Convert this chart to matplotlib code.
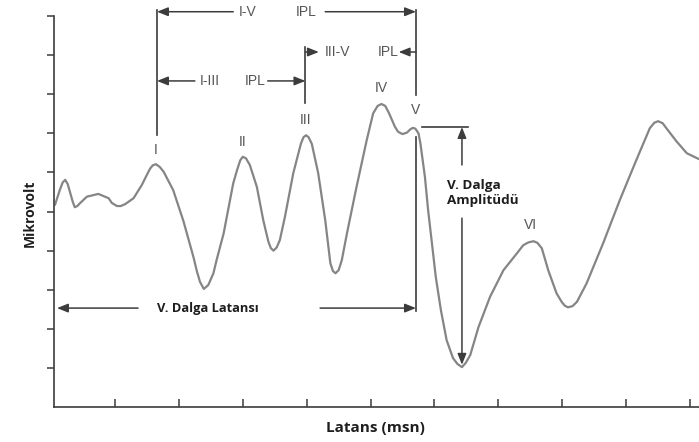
import matplotlib
matplotlib.use("Agg")
import matplotlib.pyplot as plt

# ABR waveform (latency in ms, amplitude in axis units)
latency_ms = [
    0.06, 0.10, 0.14, 0.18, 0.22, 0.26, 0.30, 0.34, 0.37, 0.41, 0.45, 0.56,
    0.74, 0.90, 0.95, 1.03, 1.09, 1.16, 1.29, 1.42, 1.49, 1.55, 1.59, 1.64,
    1.70, 1.76, 1.91, 2.07, 2.23, 2.28, 2.33, 2.39, 2.46, 2.54, 2.59, 2.70,
    2.85, 2.91, 2.96, 3.00, 3.05, 3.11, 3.22, 3.32, 3.40, 3.44, 3.48, 3.53,
    3.58, 3.66, 3.79, 3.91, 3.95, 3.99, 4.03, 4.08, 4.18, 4.29, 4.37, 4.41,
    4.45, 4.50, 4.55, 4.63, 4.78, 4.94, 5.04, 5.11, 5.17, 5.23, 5.29, 5.38,
    5.43, 5.50, 5.57, 5.62, 5.66, 5.70, 5.75, 5.78, 5.85, 5.90, 5.96, 6.02,
    6.10, 6.19, 6.29, 6.36, 6.43, 6.49, 6.56, 6.69, 6.87, 7.08, 7.29, 7.39,
    7.47, 7.55, 7.61, 7.68, 7.78, 7.91, 7.99, 8.04, 8.09, 8.16, 8.23, 8.38,
    8.64, 8.90, 9.16, 9.37, 9.44, 9.50, 9.57, 9.63, 9.79, 9.95, 10.14,
]
amplitude = [
    5.17, 5.37, 5.57, 5.74, 5.81, 5.70, 5.47, 5.24, 5.11, 5.14, 5.21, 5.38,
    5.45, 5.34, 5.22, 5.14, 5.14, 5.19, 5.34, 5.68, 5.91, 6.10, 6.18, 6.21,
    6.14, 6.02, 5.55, 4.76, 3.82, 3.48, 3.20, 3.02, 3.12, 3.42, 3.76, 4.44,
    5.72, 6.06, 6.31, 6.40, 6.36, 6.19, 5.63, 4.78, 4.23, 4.06, 4.00, 4.08,
    4.27, 4.87, 5.98, 6.74, 6.90, 6.95, 6.90, 6.73, 5.98, 4.78, 3.68, 3.48,
    3.42, 3.50, 3.76, 4.44, 5.63, 6.83, 7.51, 7.70, 7.75, 7.70, 7.51, 7.17,
    7.04, 6.98, 7.02, 7.10, 7.14, 7.12, 7.00, 6.74, 5.89, 5.04, 4.19, 3.33,
    2.48, 1.71, 1.25, 1.10, 1.02, 1.13, 1.33, 2.05, 2.82, 3.50, 3.93, 4.14,
    4.21, 4.24, 4.20, 4.06, 3.50, 2.91, 2.69, 2.59, 2.55, 2.58, 2.69, 3.16,
    4.19, 5.29, 6.32, 7.13, 7.27, 7.31, 7.26, 7.13, 6.79, 6.49, 6.34,
]

x_ticks = [1, 2, 3, 4, 5, 6, 7, 8, 9, 10]
y_ticks = [1, 2, 3, 4, 5, 6, 7, 8, 9, 10]

# wave labels: (text, latency, amplitude)
wave_names = ["I", "II", "III", "IV", "V", "VI"]
wave_x = [1.64, 3.00, 3.99, 5.16, 5.70, 7.51]
wave_y = [6.57, 6.78, 7.34, 8.16, 7.60, 4.65]

# latency markers
lat_I, lat_III, lat_V = 1.657, 3.98, 5.71

LINE = "#3c3c3c"
WAVE = "#858585"
LABEL = "#555555"
BOLD = "#1e1e1e"
roman = dict(family="Liberation Sans", color=LABEL, fontsize=10, ha="center", va="center")
bold = dict(family="Open Sans", fontweight="bold", color=BOLD)

fig = plt.figure(figsize=(6.99, 4.42), dpi=100)
ax = fig.add_axes([54 / 699, 35 / 442, 645 / 699, 407 / 442])
ax.set_xlim(0.045, 10.14)
ax.set_ylim(0, 10.41)

ax.plot(latency_ms, amplitude, color=WAVE, lw=1.6, solid_joinstyle="round",
        solid_capstyle="round")

for s in ["top", "right"]:
    ax.spines[s].set_visible(False)
for s in ["left", "bottom"]:
    ax.spines[s].set_color(LINE)
    ax.spines[s].set_linewidth(1.2)
ax.spines["left"].set_bounds(0, 10)
ax.set_xticks(x_ticks)
ax.set_yticks(y_ticks)
ax.set_xticklabels([])
ax.set_yticklabels([])
ax.tick_params(axis="x", direction="in", length=6, width=1.1, color=LINE)
ax.tick_params(axis="y", direction="out", length=5, width=1.1, color=LINE)

for name, x, y in zip(wave_names, wave_x, wave_y):
    ax.text(x, y, name, **roman)


def arrow(x0, y0, x1, y1):
    ax.annotate("", xy=(x1, y1), xytext=(x0, y0),
                arrowprops=dict(arrowstyle="-|>,head_length=0.55,head_width=0.22",
                                mutation_scale=12, color=LINE, lw=1.1,
                                shrinkA=0, shrinkB=0))


# vertical marker lines
ax.plot([lat_I, lat_I], [10.15, 6.96], color=LINE, lw=1.2)
ax.plot([lat_V, lat_V], [10.15, 7.98], color=LINE, lw=1.2)
ax.plot([lat_V, lat_V], [6.91, 2.46], color=LINE, lw=1.2)
ax.plot([lat_III, lat_III], [9.21, 7.77], color=LINE, lw=1.2)

# I-V IPL
arrow(2.85, 10.11, lat_I, 10.11)
ax.text(3.08, 10.11, "I-V", **roman)
ax.text(3.99, 10.11, "IPL", **roman)
arrow(4.29, 10.11, lat_V, 10.11)

# III-V IPL
arrow(lat_III, 9.08, 4.19, 9.08)
ax.text(4.48, 9.08, "III-V", **roman)
ax.text(5.27, 9.08, "IPL", **roman)
arrow(lat_V, 9.08, 5.44, 9.08)

# I-III IPL
arrow(2.25, 8.34, lat_I, 8.34)
ax.text(2.49, 8.34, "I-III", **roman)
ax.text(3.19, 8.34, "IPL", **roman)
arrow(3.39, 8.34, lat_III, 8.34)

# wave V latency
arrow(1.36, 2.53, 0.092, 2.53)
ax.text(2.46, 2.53, "V. Dalga Latansı", fontsize=9.3, ha="center", va="center", **bold)
arrow(4.21, 2.53, lat_V, 2.53)

# wave V amplitude
ax.plot([5.80, 6.52], [7.16, 7.16], color=LINE, lw=1.2)
arrow(6.43, 6.19, 6.43, 7.16)
arrow(6.43, 4.83, 6.43, 1.08)
ax.text(6.20, 5.47, "V. Dalga\nAmplitüdü", fontsize=9.7, ha="left", va="center",
        linespacing=1.25, **bold)

fig.text(30 / 699, 1 - 213 / 442, "Mikrovolt", rotation=90, fontsize=10,
         ha="center", va="center", **bold)
fig.text(375 / 699, 1 - 428 / 442, "Latans (msn)", fontsize=11,
         ha="center", va="center", **bold)

fig.savefig("out.png", dpi=100, facecolor="white")
